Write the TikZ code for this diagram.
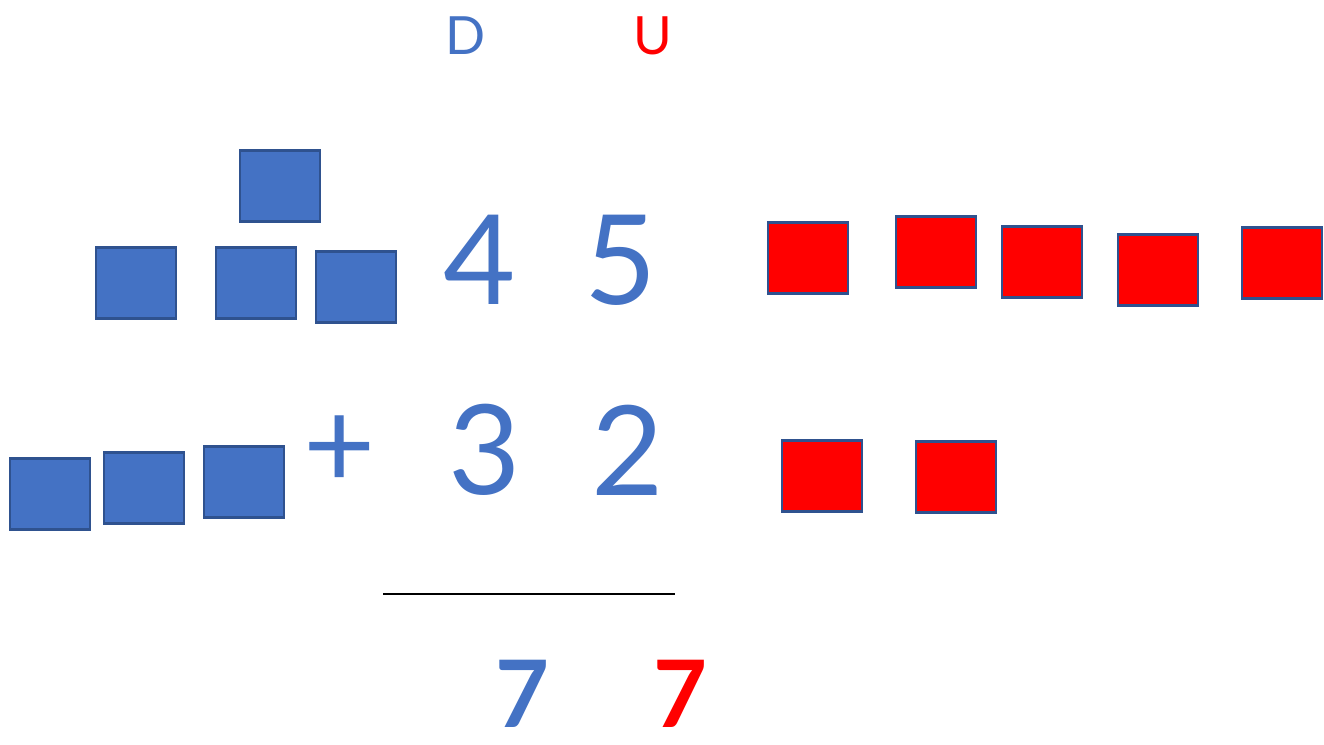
\documentclass[tikz,border=0pt]{standalone}
\usepackage{fontspec}
\setmainfont{Lato}
\usetikzlibrary{positioning}
\definecolor{tenblue}{RGB}{68,114,196}
\definecolor{edgeblue}{RGB}{47,82,143}
\definecolor{unitred}{RGB}{255,0,0}
\tikzset{
	ten/.style={
		draw=edgeblue, fill=tenblue, line width=1.5pt,
		rectangle, minimum width=1.6cm, minimum height=1.42cm,
		inner sep=0pt
	},
	unit/.style={ten, fill=unitred},
	digit/.style={text=tenblue, inner sep=0pt, font=\fontsize{71}{73}\selectfont},
	result/.style={digit, anchor=north, font=\fontsize{53}{55}\selectfont\bfseries},
	header/.style={inner sep=0pt, font=\fontsize{30}{32}\selectfont}
}
\begin{document}
\begin{tikzpicture}[x=0.02cm, y=-0.02cm]
	\useasboundingbox (0,0) rectangle (1324,744);
	% place headings
	\node[header, text=tenblue] (D) at (466,36) {D};
	\node[header, text=unitred] (U) at (653,36) {U};
	% first number
	\node[digit] (four) at (480,260) {4};
	\node[digit] (five) at (621,260) {5};
	\node[ten] (t1) at (280,186) {};
	\node[ten] (t2) at (136,283) {};
	\node[ten] (t3) at (256,283) {};
	\node[ten] (t4) at (356,287) {};
	\node[unit] (u1) at (808,258) {};
	\node[unit] (u2) at (936,252) {};
	\node[unit] (u3) at (1042,262) {};
	\node[unit] (u4) at (1158,270) {};
	\node[unit] (u5) at (1282,263) {};
	% second number
	\node[digit] (plus) at (340,452) {+};
	\node[digit] (three) at (485,450) {3};
	\node[digit] (two) at (628,450) {2};
	\node[ten] (t5) at (50,494) {};
	\node[ten] (t6) at (144,488) {};
	\node[ten] (t7) at (244,482) {};
	\node[unit] (u6) at (822,476) {};
	\node[unit] (u7) at (956,477) {};
	% sum
	\coordinate (barL) at (383,594);
	\coordinate (barR) at (675,594);
	\draw[line width=1.2pt] (barL) -- (barR);
	\node[result] (sumD) at (522,660) {7};
	\node[result, text=unitred] (sumU) at (680,660) {7};
\end{tikzpicture}
\end{document}
